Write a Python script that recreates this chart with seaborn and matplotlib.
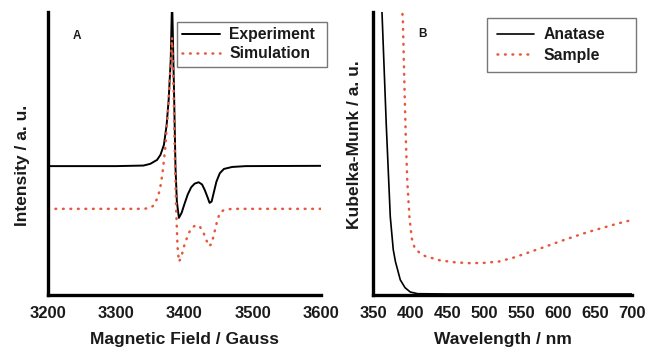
import seaborn as sns
import matplotlib.pyplot as plt
from matplotlib.ticker import MultipleLocator

# Panel A: EPR spectra
field_exp = [3200, 3300, 3340, 3350, 3360, 3365, 3370, 3374, 3377, 3380, 3382,
             3385, 3387, 3389, 3392, 3396, 3400, 3405, 3410, 3415, 3421, 3426,
             3430, 3434, 3437, 3440, 3443, 3447, 3452, 3458, 3470, 3490, 3600]
int_exp = [0.455, 0.455, 0.457, 0.463, 0.477, 0.495, 0.53, 0.60, 0.69, 0.83, 1.05,
           0.70, 0.45, 0.33, 0.272, 0.29, 0.32, 0.355, 0.38, 0.393, 0.398, 0.39,
           0.37, 0.345, 0.325, 0.33, 0.36, 0.40, 0.43, 0.445, 0.452, 0.455, 0.456]

field_sim = [3200, 3340, 3350, 3356, 3360, 3364, 3368, 3372, 3376, 3379, 3382,
             3384, 3386, 3388, 3390, 3392, 3395, 3400, 3405, 3410, 3417, 3423,
             3428, 3432, 3436, 3440, 3444, 3448, 3452, 3458, 3470, 3600]
int_sim = [0.304, 0.304, 0.307, 0.318, 0.34, 0.37, 0.43, 0.52, 0.65, 0.78, 0.91,
           0.75, 0.50, 0.30, 0.17, 0.117, 0.13, 0.175, 0.21, 0.235, 0.247, 0.24,
           0.22, 0.195, 0.172, 0.18, 0.22, 0.26, 0.29, 0.30, 0.304, 0.304]

# Panel B: diffuse reflectance (Kubelka-Munk)
wl_anatase = [361.5, 367.6, 373, 377, 380, 386.5, 393, 400, 410, 450, 700]
km_anatase = [1.02, 0.60, 0.276, 0.16, 0.117, 0.053, 0.025, 0.01, 0.004, 0.003, 0.003]

wl_sample = [388, 390, 392, 394, 396, 399, 402, 406, 412, 420, 440, 460, 480,
             500, 520, 540, 560, 580, 600, 620, 640, 660, 680, 700]
km_sample = [1.05, 0.97, 0.75, 0.55, 0.40, 0.27, 0.20, 0.165, 0.150, 0.137, 0.122,
             0.115, 0.112, 0.113, 0.118, 0.132, 0.150, 0.168, 0.187, 0.205, 0.222,
             0.237, 0.252, 0.265]

field_ticks = [3200, 3300, 3400, 3500, 3600]
wl_ticks = [350, 400, 450, 500, 550, 600, 650, 700]

red = "#e4583c"
ink = "#1a1a1a"
dots = (0, (0.3, 2.7))

sns.set_style("white")
plt.rcParams["font.family"] = ["Liberation Sans", "DejaVu Sans"]
plt.rcParams["font.weight"] = "bold"

fig = plt.figure(figsize=(6.48, 3.51), dpi=100)
ax1 = fig.add_axes([0.074, 0.160, 0.421, 0.806])
ax2 = fig.add_axes([0.576, 0.160, 0.400, 0.806])

sns.lineplot(x=field_exp, y=int_exp, ax=ax1, color="black", lw=1.4,
             sort=False, estimator=None, label="Experiment")
sns.lineplot(x=field_sim, y=int_sim, ax=ax1, color=red, lw=1.8,
             sort=False, estimator=None, label="Simulation",
             linestyle=dots, dash_capstyle="round")

sns.lineplot(x=wl_anatase, y=km_anatase, ax=ax2, color="black", lw=1.2,
             sort=False, estimator=None, label="Anatase")
sns.lineplot(x=wl_sample, y=km_sample, ax=ax2, color=red, lw=1.8,
             sort=False, estimator=None, label="Sample",
             linestyle=dots, dash_capstyle="round")

ax1.set_xlim(3200, 3600)
ax2.set_xlim(350, 700)
ax1.set_xticks(field_ticks, [str(t) for t in field_ticks])
ax2.set_xticks(wl_ticks, [str(t) for t in wl_ticks])
ax1.xaxis.set_minor_locator(MultipleLocator(50))
ax2.xaxis.set_minor_locator(MultipleLocator(25))

for ax in (ax1, ax2):
    ax.set_ylim(0, 1)
    ax.set_yticks([])
    sns.despine(ax=ax)
    for s in ("left", "bottom"):
        ax.spines[s].set_linewidth(2.4)
        ax.spines[s].set_color("black")
    ax.tick_params(axis="x", which="major", direction="in", length=5, width=2,
                   labelsize=12, pad=8, labelcolor=ink)
    ax.tick_params(axis="x", which="minor", direction="in", length=3, width=2)
    for t in ax.get_xticklabels():
        t.set_fontweight("bold")

lab = dict(fontsize=12.5, fontweight="bold", color=ink)
ax1.set_xlabel("Magnetic Field / Gauss", labelpad=8, **lab)
ax1.set_ylabel("Intensity / a. u.", **lab)
ax2.set_xlabel("Wavelength / nm", labelpad=8, **lab)
ax2.set_ylabel("Kubelka-Munk / a. u.", **lab)
ax1.yaxis.set_label_coords(-0.066, 0.456)
ax2.yaxis.set_label_coords(-0.042, 0.53)

ax1.text(0.092, 0.905, "A", transform=ax1.transAxes, fontsize=8.5,
         fontweight="bold", color=ink)
ax2.text(0.174, 0.912, "B", transform=ax2.transAxes, fontsize=8.5,
         fontweight="bold", color=ink)

# legend boxes: (x0, y0, width, height) in axes coords, content left aligned
legs = ((ax1, (0.4725, 0.5, 0.549, 0.465), 0.35, 0.25),
        (ax2, (0.44, 0.5, 0.575, 0.479), 0.6, 0.35))
for ax, box, bp, ls in legs:
    leg = ax.legend(loc="upper left", bbox_to_anchor=box, mode="expand",
                    fancybox=False, frameon=True, fontsize=11.3,
                    handlelength=2.4, handletextpad=0.6, borderpad=bp,
                    labelspacing=ls, borderaxespad=0)
    leg.get_frame().set_edgecolor("#555555")
    leg.get_frame().set_linewidth(1.0)
    for t in leg.get_texts():
        t.set_fontweight("bold")
        t.set_color(ink)

fig.savefig("out.png", dpi=100)
